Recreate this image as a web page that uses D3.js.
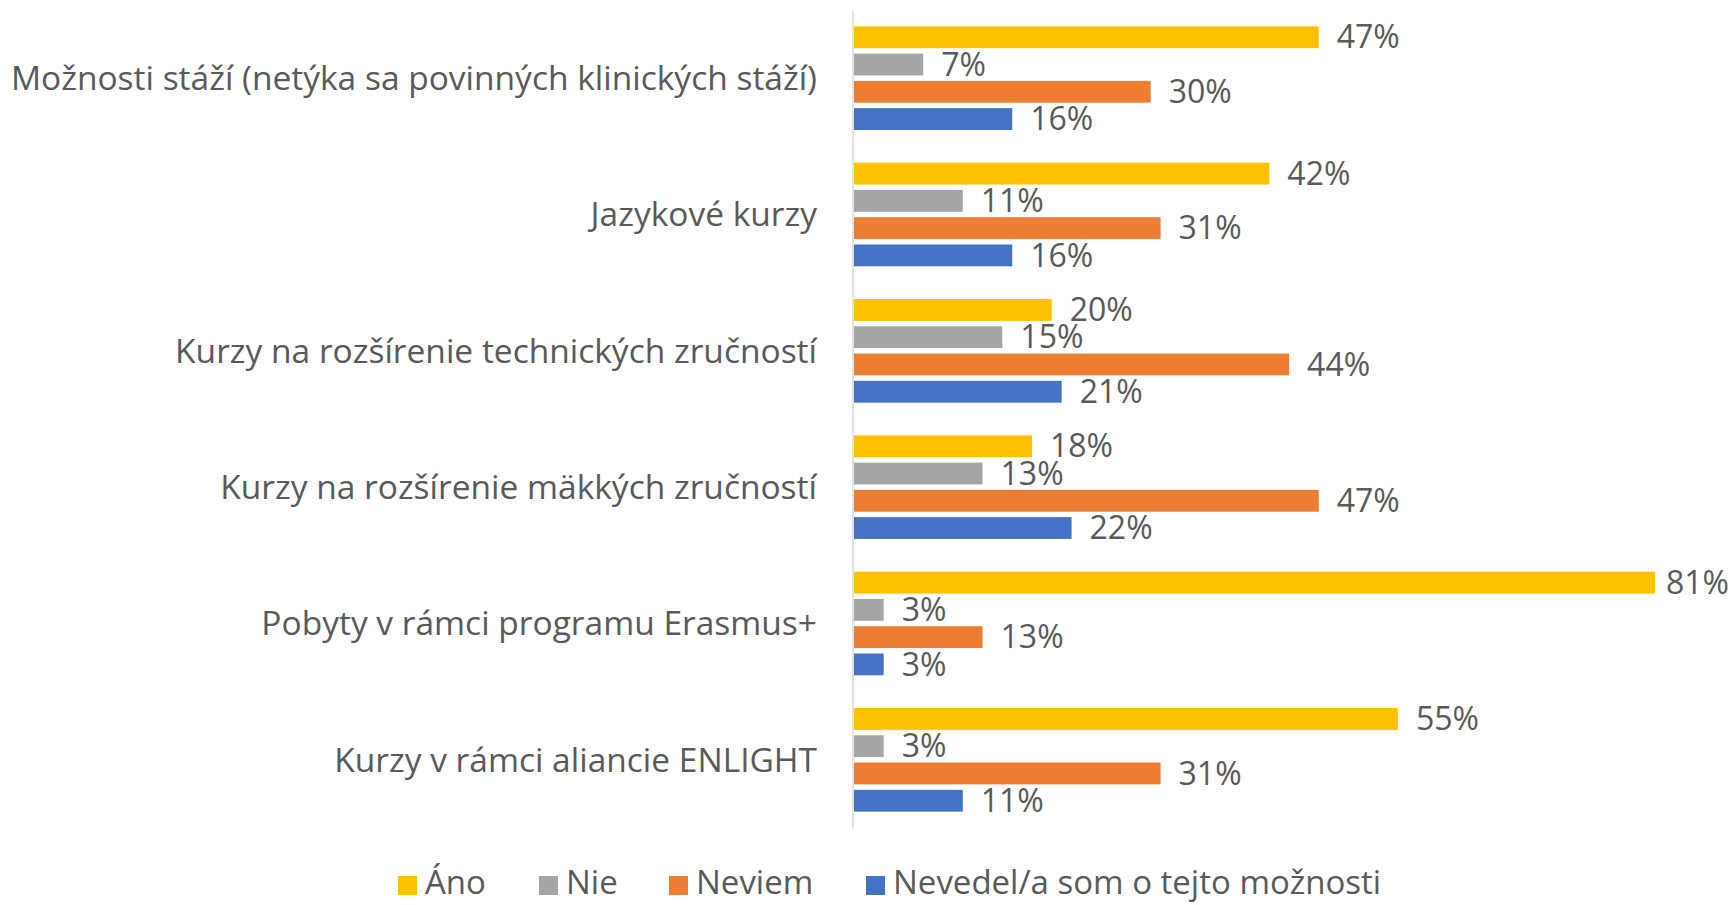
<!DOCTYPE html>
<html>
<head>
<meta charset="utf-8">
<script src="https://cdn.jsdelivr.net/npm/d3@7"></script>
<style>
  body { margin: 0; background: #fff; }
  svg text { font-family: "Open Sans", sans-serif; fill: #595959; }
</style>
</head>
<body>
<svg width="1732" height="905"></svg>
<script>
// categories, top to bottom
var categories = [
	"Možnosti stáží (netýka sa povinných klinických stáží)",
	"Jazykové kurzy",
	"Kurzy na rozšírenie technických zručností",
	"Kurzy na rozšírenie mäkkých zručností",
	"Pobyty v rámci programu Erasmus+",
	"Kurzy v rámci aliancie ENLIGHT"
];
var seriesNames = ["Áno", "Nie", "Neviem", "Nevedel/a som o tejto možnosti"];
var seriesColors = ["#FFC000", "#A5A5A5", "#ED7D31", "#4472C4"];

// values in %, one array per series
var ano    = [47, 42, 20, 18, 81, 55];
var nie    = [7, 11, 15, 13, 3, 3];
var neviem = [30, 31, 44, 47, 13, 31];
var nevedel = [16, 16, 21, 22, 3, 11];

var series = [ano, nie, neviem, nevedel];

var W = 1732;
var svg = d3.select("svg");

var x = d3.scaleLinear()
	.domain([0, 81])
	.range([853, 1654]);

var y0 = d3.scaleBand()
	.domain(categories)
	.range([10, 828])
	.paddingInner(0.2)
	.paddingOuter(0.1);

var y1 = d3.scaleBand()
	.domain(d3.range(seriesNames.length))
	.range([0, y0.bandwidth()])
	.paddingInner(0.2)
	.paddingOuter(0.1);

// vertical axis line
svg.append("line")
	.attr("x1", x(0)).attr("x2", x(0))
	.attr("y1", 11).attr("y2", 828)
	.attr("stroke", "#D9D9D9")
	.attr("stroke-width", 1.5);

var groups = svg.selectAll("g.cat")
	.data(categories)
	.enter().append("g")
	.attr("class", "cat")
	.attr("transform", function(d){ return "translate(0," + y0(d) + ")"; });

groups.each(function(cat, ci){
	var g = d3.select(this);
	series.forEach(function(s, si){
		g.append("rect")
			.attr("x", x(0) + 1)
			.attr("y", y1(si))
			.attr("width", x(s[ci]) - x(0))
			.attr("height", y1.bandwidth())
			.attr("fill", seriesColors[si]);
		var lbl = g.append("text")
			.attr("y", y1(si) + y1.bandwidth() / 2)
			.attr("dy", "0.35em")
			.style("font-size", "32px")
			.text(s[ci] + "%");
		// keep label inside the page, like excel does at the edge
		var w = lbl.node().getComputedTextLength();
		lbl.attr("x", Math.min(x(s[ci]) + 19, W - w - 3));
	});
	g.append("text")
		.attr("x", 817)
		.attr("y", y0.bandwidth() / 2)
		.attr("dy", "0.35em")
		.attr("text-anchor", "end")
		.style("font-size", "33.5px")
		.text(cat);
});

// legend
var legendX = [398, 539, 669, 866];
var legend = svg.append("g").attr("class", "legend");
seriesNames.forEach(function(name, i){
	legend.append("rect")
		.attr("x", legendX[i])
		.attr("y", 876)
		.attr("width", 19)
		.attr("height", 19)
		.attr("fill", seriesColors[i]);
	legend.append("text")
		.attr("x", legendX[i] + 27)
		.attr("y", 884)
		.attr("dy", "0.3em")
		.style("font-size", "33px")
		.text(name);
});
</script>
</body>
</html>
